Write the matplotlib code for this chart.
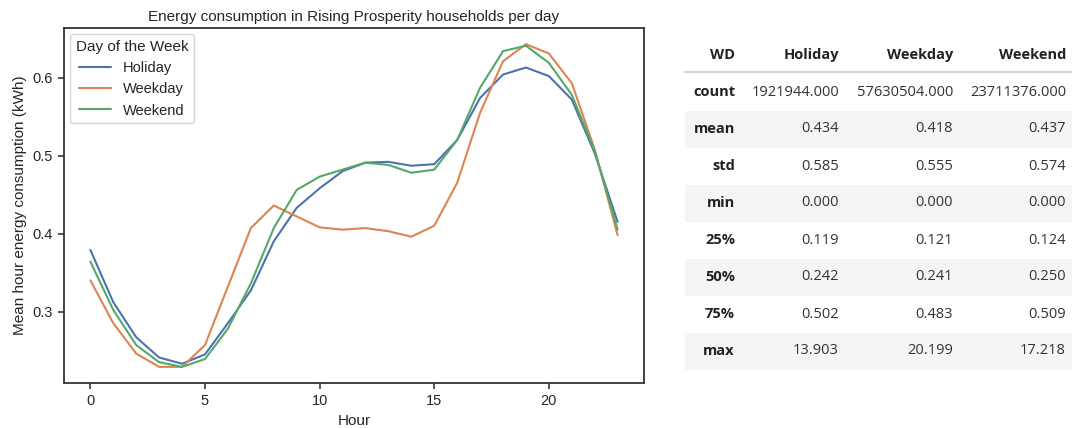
import matplotlib
matplotlib.use("Agg")
import matplotlib.pyplot as plt
from matplotlib.patches import Rectangle
import seaborn as sns

# mean hourly consumption per day type (kWh)
hours = list(range(24))
holiday = [0.379, 0.312, 0.267, 0.241, 0.233, 0.245, 0.285, 0.327, 0.390, 0.433,
           0.458, 0.480, 0.491, 0.492, 0.487, 0.489, 0.520, 0.574, 0.604, 0.613,
           0.602, 0.572, 0.503, 0.415]
weekday = [0.340, 0.285, 0.246, 0.229, 0.229, 0.257, 0.332, 0.407, 0.436, 0.422,
           0.408, 0.405, 0.407, 0.403, 0.396, 0.410, 0.465, 0.555, 0.621, 0.643,
           0.631, 0.593, 0.508, 0.398]
weekend = [0.364, 0.302, 0.257, 0.235, 0.229, 0.239, 0.278, 0.336, 0.407, 0.456,
           0.473, 0.482, 0.491, 0.488, 0.478, 0.482, 0.520, 0.587, 0.634, 0.641,
           0.619, 0.578, 0.506, 0.405]
series_names = ["Holiday", "Weekday", "Weekend"]

# describe() table
stat_rows = ["count", "mean", "std", "min", "25%", "50%", "75%", "max"]
holiday_stats = ["1921944.000", "0.434", "0.585", "0.000", "0.119", "0.242", "0.502", "13.903"]
weekday_stats = ["57630504.000", "0.418", "0.555", "0.000", "0.121", "0.241", "0.483", "20.199"]
weekend_stats = ["23711376.000", "0.437", "0.574", "0.000", "0.124", "0.250", "0.509", "17.218"]

sns.set_theme(style="ticks", palette="deep")
plt.rcParams["font.family"] = ["Liberation Sans", "DejaVu Sans"]

W, H = 1072, 428
fig = plt.figure(figsize=(W / 100, H / 100), dpi=100)
ax = fig.add_axes([64 / W, 1 - 383 / H, 580 / W, 355 / H])

for name, vals in zip(series_names, [holiday, weekday, weekend]):
    ax.plot(hours, vals, label=name, linewidth=1.5)

ax.set_title("Energy consumption in Rising Prosperity households per day", fontsize=11, pad=5)
ax.set_xlabel("Hour", fontsize=11, labelpad=4)
ax.set_ylabel("Mean hour energy consumption (kWh)", fontsize=11)
ax.set_xticks([0, 5, 10, 15, 20])
ax.set_yticks([0.3, 0.4, 0.5, 0.6])
ax.tick_params(labelsize=10.5, length=4.5, width=1.1)
for s in ax.spines.values():
    s.set_linewidth(1.3)
    s.set_color("#333333")
ax.legend(title="Day of the Week", loc="upper left", fontsize=10.5, title_fontsize=11,
          handlelength=2.2, borderaxespad=0.4)

# summary table on the right
tfont = ["Open Sans", "DejaVu Sans"]
tleft, tright = 685 / W, 1.0
col_x = [735 / W, 839 / W, 953 / W, 1066 / W]
header_y = 1 - 55 / H
row_h = 37 / H
first_y = 1 - 92 / H

fig.text(col_x[0], header_y, "WD", ha="right", va="center", fontsize=10.5,
         fontweight="bold", family=tfont, color="#222222")
for cx, name in zip(col_x[1:], series_names):
    fig.text(cx, header_y, name, ha="right", va="center", fontsize=10.5,
             fontweight="bold", family=tfont, color="#222222")
fig.add_artist(plt.Line2D([tleft, tright], [1 - 72 / H] * 2, color="#d6d6d6", lw=1.5))

for i, stat in enumerate(stat_rows):
    y = first_y - i * row_h
    if i % 2 == 1:
        fig.add_artist(Rectangle((tleft, y - row_h / 2), tright - tleft, row_h,
                                 transform=fig.transFigure, facecolor="#f5f5f5",
                                 edgecolor="none", zorder=0))
    fig.text(col_x[0], y, stat, ha="right", va="center", fontsize=10.5,
             fontweight="bold", family=tfont, color="#222222")
    for cx, col in zip(col_x[1:], [holiday_stats, weekday_stats, weekend_stats]):
        fig.text(cx, y, col[i], ha="right", va="center", fontsize=10.5,
                 family=tfont, color="#333333")

fig.savefig("out.png", dpi=100)
